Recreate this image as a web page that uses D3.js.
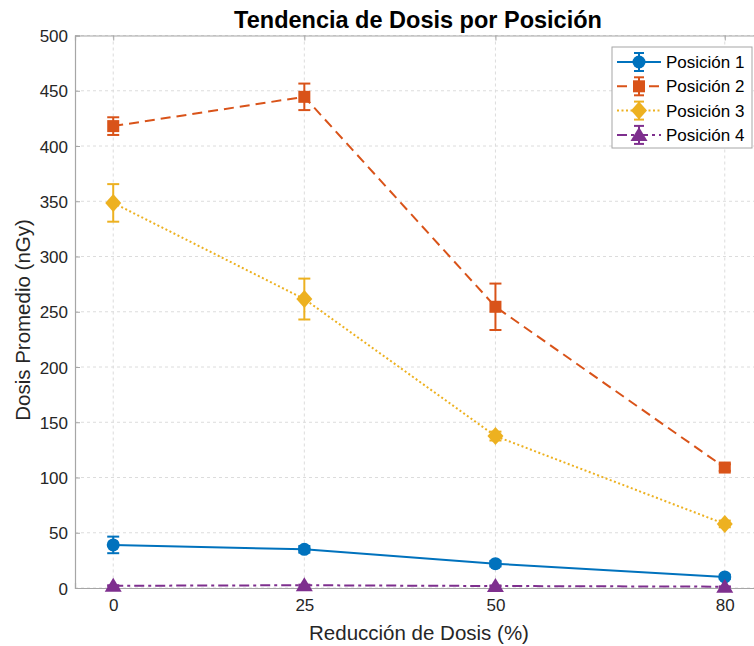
<!DOCTYPE html>
<html lang="es">
<head>
  <meta charset="UTF-8">
  <script src="https://cdn.jsdelivr.net/npm/d3@7"></script>
  <title>Tendencia de Dosis por Posición</title>
  <style>
    body { margin: 0; background: #fff; }
    svg { display: block; font-family: "Liberation Sans", Arial, sans-serif; }
    .tick text { fill: #262626; font-size: 17px; }
  </style>
</head>
<body>
<div id="chart"></div>
<script>
  // data
  let reductions = [0, 25, 50, 80];
  let seriesNames = ["Posición 1", "Posición 2", "Posición 3", "Posición 4"];
  let pos1 = [39, 35, 22, 10];
  let err1 = [7.5, 3, 2.5, 2];
  let pos2 = [418, 444.5, 254.5, 109];
  let err2 = [8, 12, 21, 3];
  let pos3 = [348.5, 261.5, 137.5, 58];
  let err3 = [17, 18.5, 4, 3];
  let pos4 = [2, 2.5, 1.8, 1.2];
  let err4 = [0.5, 0.5, 0.5, 0.3];
  let yTicks = [0, 50, 100, 150, 200, 250, 300, 350, 400, 450, 500];

  let width = 754, height = 646;
  let margin = {top: 35.5, left: 75, bottom: 58, right: -9};
  let plotW = width - margin.left - margin.right,
      plotH = height - margin.top - margin.bottom;

  let colors = ["#0072BD", "#D95319", "#EDB120", "#7E2F8E"];
  let dashes = [null, "10,6", "2,2.5", "10,4,3,4"];
  let shapes = ["circle", "square", "diamond", "triangle"];

  let series = [pos1, pos2, pos3, pos4].map((vals, i) => ({
    name: seriesNames[i],
    color: colors[i],
    dash: dashes[i],
    shape: shapes[i],
    values: vals.map((v, j) => ({x: reductions[j], y: v, e: [err1, err2, err3, err4][i][j]}))
  }));

  let x = d3.scaleLinear().domain([-5, 85]).range([0, plotW]);
  let y = d3.scaleLinear().domain([0, 500]).range([plotH, 0]);

  let svg = d3.select("#chart").append("svg")
          .attr("width", width).attr("height", height);

  let g = svg.append("g").attr("transform", "translate(" + margin.left + "," + margin.top + ")");

  // grid
  g.append("g").selectAll("line").data(yTicks).join("line")
          .attr("x1", 0).attr("x2", plotW)
          .attr("y1", d => y(d)).attr("y2", d => y(d))
          .attr("stroke", "#dcdcdc").attr("stroke-dasharray", "3,3");
  g.append("g").selectAll("line").data(reductions).join("line")
          .attr("y1", 0).attr("y2", plotH)
          .attr("x1", d => x(d)).attr("x2", d => x(d))
          .attr("stroke", "#dcdcdc").attr("stroke-dasharray", "3,3");

  // axes (ticks inside, like the reference)
  let axisColor = "#a6a6a6";
  let xAxis = g.append("g").attr("transform", "translate(0," + plotH + ")")
          .call(d3.axisBottom(x).tickValues(reductions).tickSize(-5).tickPadding(11));
  let xTop = g.append("g")
          .call(d3.axisTop(x).tickValues(reductions).tickSize(-5).tickFormat(""));
  let yAxis = g.append("g")
          .call(d3.axisLeft(y).tickValues(yTicks).tickSize(-5).tickPadding(7));
  [xAxis, xTop, yAxis].forEach(a => {
    a.select(".domain").attr("stroke", axisColor).attr("stroke-width", 1.2);
    a.selectAll(".tick line").attr("stroke", axisColor);
  });
  yAxis.selectAll(".tick text").attr("dy", "0.36em");

  // lines
  let line = d3.line().x(d => x(d.x)).y(d => y(d.y));
  g.append("g").selectAll("path").data(series).join("path")
          .attr("d", d => line(d.values))
          .attr("fill", "none")
          .attr("stroke", d => d.color)
          .attr("stroke-width", 2)
          .attr("stroke-dasharray", d => d.dash);

  // marker builder
  function marker(sel, shape, color) {
    if (shape === "circle") {
      sel.append("circle").attr("r", 6.5).attr("fill", color);
    } else if (shape === "square") {
      sel.append("rect").attr("x", -6).attr("y", -6).attr("width", 12).attr("height", 12).attr("fill", color);
    } else if (shape === "diamond") {
      sel.append("path").attr("d", "M0,-9L8,0L0,9L-8,0Z").attr("fill", color);
    } else {
      sel.append("path").attr("d", "M0,-8L8.5,6L-8.5,6Z").attr("fill", color);
    }
  }

  // error bars + markers
  series.forEach(s => {
    let sg = g.append("g");
    let pts = sg.selectAll("g").data(s.values).join("g");
    pts.append("line")
            .attr("x1", d => x(d.x)).attr("x2", d => x(d.x))
            .attr("y1", d => y(d.y - d.e)).attr("y2", d => y(d.y + d.e))
            .attr("stroke", s.color).attr("stroke-width", 2);
    pts.append("line")
            .attr("x1", d => x(d.x) - 6).attr("x2", d => x(d.x) + 6)
            .attr("y1", d => y(d.y + d.e)).attr("y2", d => y(d.y + d.e))
            .attr("stroke", s.color).attr("stroke-width", 2);
    pts.append("line")
            .attr("x1", d => x(d.x) - 6).attr("x2", d => x(d.x) + 6)
            .attr("y1", d => y(d.y - d.e)).attr("y2", d => y(d.y - d.e))
            .attr("stroke", s.color).attr("stroke-width", 2);
    pts.each(function(d) {
      let m = d3.select(this).append("g").attr("transform", "translate(" + x(d.x) + "," + y(d.y) + ")");
      marker(m, s.shape, s.color);
    });
  });

  // title and axis labels
  svg.append("text")
          .attr("x", 418).attr("y", 28)
          .attr("text-anchor", "middle")
          .style("font-size", "23.5px").style("font-weight", "bold").style("fill", "#000")
          .text("Tendencia de Dosis por Posición");
  svg.append("text")
          .attr("x", 419).attr("y", 640)
          .attr("text-anchor", "middle")
          .style("font-size", "20.5px").style("fill", "#262626")
          .text("Reducción de Dosis (%)");
  svg.append("text")
          .attr("transform", "translate(30,320) rotate(-90)")
          .attr("text-anchor", "middle")
          .style("font-size", "20.5px").style("fill", "#262626")
          .text("Dosis Promedio (nGy)");

  // legend
  let legend = svg.append("g").attr("transform", "translate(612,47)");
  legend.append("rect")
          .attr("width", 140).attr("height", 101)
          .attr("fill", "#fff").attr("stroke", "#a6a6a6");
  let items = legend.selectAll("g.item").data(series).join("g")
          .attr("class", "item")
          .attr("transform", (d, i) => "translate(0," + (15 + i * 24.3) + ")");
  items.append("line")
          .attr("x1", 5).attr("x2", 49)
          .attr("stroke", d => d.color).attr("stroke-width", 2)
          .attr("stroke-dasharray", d => d.dash);
  items.append("line")
          .attr("x1", 27).attr("x2", 27).attr("y1", -9).attr("y2", 9)
          .attr("stroke", d => d.color).attr("stroke-width", 2);
  items.append("line")
          .attr("x1", 22).attr("x2", 32).attr("y1", -9).attr("y2", -9)
          .attr("stroke", d => d.color).attr("stroke-width", 2);
  items.append("line")
          .attr("x1", 22).attr("x2", 32).attr("y1", 9).attr("y2", 9)
          .attr("stroke", d => d.color).attr("stroke-width", 2);
  items.each(function(d) {
    let m = d3.select(this).append("g").attr("transform", "translate(27,0)");
    marker(m, d.shape, d.color);
  });
  items.append("text")
          .attr("x", 54).attr("dy", "0.36em")
          .style("font-size", "17px").style("fill", "#000")
          .text(d => d.name);
</script>
</body>
</html>
